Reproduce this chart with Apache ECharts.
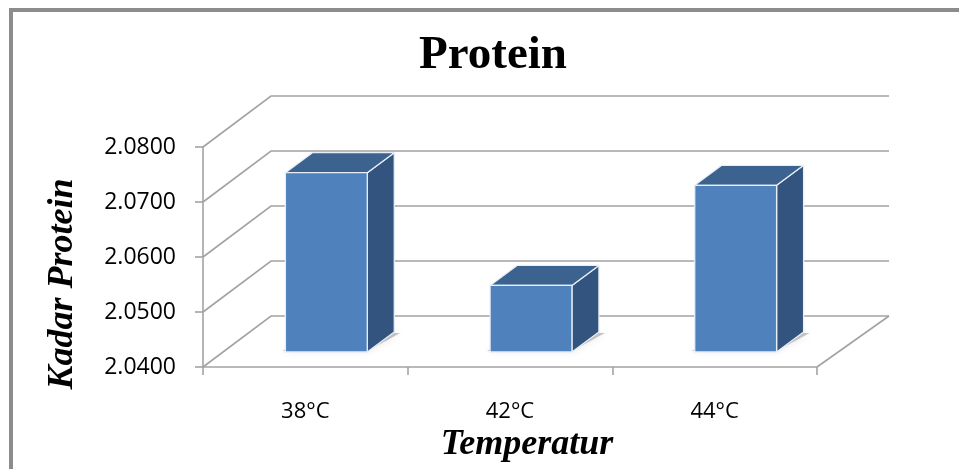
<!DOCTYPE html>
<html>
<head>
<meta charset="utf-8">
<script src="https://cdn.jsdelivr.net/npm/echarts@6/dist/echarts.min.js"></script>
<style>
html,body{margin:0;padding:0;background:#fff;}
#chart{width:959px;height:469px;}
</style>
</head>
<body>
<div id="chart"></div>
<script>
const categories = ['38°C', '42°C', '44°C'];
const proteinValues = [2.0726, 2.0521, 2.0703];
const yTicks = [2.04, 2.05, 2.06, 2.07, 2.08];
const titleText = 'Protein';
const yName = 'Kadar Protein';
const xName = 'Temperatur';

// style constants (pixel offsets of the pseudo-3D depth)
const WALL_DX = 68, WALL_DY = 51, WALL_DX_RIGHT = 72;
const BAR_FX = 21, BAR_FY = 15, BAR_DX = 27, BAR_DY = 20, BAR_W = 0.4;
const GRID_COLOR = '#a3a3a3';

const chart = echarts.init(document.getElementById('chart'), null, {renderer: 'canvas'});

const yMin = yTicks[0], yMax = yTicks[yTicks.length - 1];

function renderWall(params, api) {
  const v = api.value(1);
  const p = api.coord([0, v]);
  const cs = params.coordSys;
  const x0 = cs.x, x1 = cs.x + cs.width, y = p[1];
  const children = [{
    type: 'polyline',
    shape: {points: [[x0, y], [x0 + WALL_DX, y - WALL_DY], [x1 + WALL_DX_RIGHT, y - WALL_DY]]},
    style: {stroke: GRID_COLOR, lineWidth: 1.6, fill: null}
  }];
  if (params.dataIndex === 0) {
    children.push({
      type: 'line',
      shape: {x1: x1, y1: y, x2: x1 + WALL_DX_RIGHT, y2: y - WALL_DY},
      style: {stroke: GRID_COLOR, lineWidth: 1.6}
    });
  }
  return {type: 'group', children: children};
}

function renderBar(params, api) {
  const idx = api.value(0);
  const val = api.value(1);
  const top = api.coord([idx, val]);
  const base = api.coord([idx, yMin]);
  const w = api.size([1, 0])[0] * BAR_W;
  const xl = top[0] - w / 2 + BAR_FX, xr = xl + w;
  const yt = top[1] - BAR_FY, yb = base[1] - BAR_FY;
  const edge = {stroke: '#e8eef7', lineWidth: 1.3, lineJoin: 'round'};
  return {
    type: 'group',
    children: [
      {
        type: 'polygon',
        shape: {points: [[xl - 3, yb - 1], [xr, yb - 1], [xr + BAR_DX + 6, yb - BAR_DY + 1], [xl + BAR_DX, yb - BAR_DY]]},
        style: {fill: 'rgba(0,0,0,0.22)', shadowBlur: 8, shadowColor: 'rgba(0,0,0,0.45)'}
      },
      {
        type: 'polygon',
        shape: {points: [[xr, yt], [xr + BAR_DX, yt - BAR_DY], [xr + BAR_DX, yb - BAR_DY], [xr, yb]]},
        style: Object.assign({fill: '#32547e'}, edge)
      },
      {
        type: 'polygon',
        shape: {points: [[xl, yt], [xr, yt], [xr + BAR_DX, yt - BAR_DY], [xl + BAR_DX, yt - BAR_DY]]},
        style: Object.assign({fill: '#3c6390'}, edge)
      },
      {
        type: 'rect',
        shape: {x: xl, y: yt, width: w, height: yb - yt},
        style: Object.assign({fill: '#4f81bd'}, edge)
      }
    ]
  };
}

const option = {
  backgroundColor: '#ffffff',
  animation: false,
  title: {
    text: titleText,
    left: 488,
    textAlign: 'center',
    top: 27,
    textStyle: {fontFamily: 'Liberation Serif', fontWeight: 'bold', fontSize: 47, color: '#000'}
  },
  graphic: [{
    type: 'rect',
    shape: {x: 11, y: 10, width: 2000, height: 2000},
    style: {fill: null, stroke: '#8c8c8c', lineWidth: 4},
    silent: true,
    z: 100
  }],
  grid: {left: 203, top: 147, width: 614, height: 220, containLabel: false},
  xAxis: {
    type: 'category',
    data: categories,
    name: xName,
    nameLocation: 'middle',
    nameGap: 60,
    nameTextStyle: {fontFamily: 'Liberation Serif', fontWeight: 'bold', fontStyle: 'italic', fontSize: 36, color: '#000', padding: [0, 0, 0, 34]},
    axisLine: {show: true, lineStyle: {color: GRID_COLOR, width: 1.6}},
    axisTick: {show: true, length: 8, alignWithLabel: false, lineStyle: {color: GRID_COLOR, width: 1.6}},
    axisLabel: {margin: 34, fontFamily: 'Open Sans', fontSize: 22, color: '#000'},
    splitLine: {show: false}
  },
  yAxis: {
    type: 'value',
    min: yMin,
    max: yMax,
    interval: 0.01,
    name: yName,
    nameLocation: 'middle',
    nameGap: 122,
    nameTextStyle: {fontFamily: 'Liberation Serif', fontWeight: 'bold', fontStyle: 'italic', fontSize: 36, color: '#000', padding: [0, 54, 0, 0]},
    axisLine: {show: true, lineStyle: {color: GRID_COLOR, width: 1.6}},
    axisTick: {show: true, length: 8, lineStyle: {color: GRID_COLOR, width: 1.6}},
    axisLabel: {margin: 27, fontFamily: 'Open Sans', fontSize: 23, color: '#000', formatter: v => v.toFixed(4)},
    splitLine: {show: false}
  },
  series: [
    {
      type: 'custom',
      name: 'walls',
      renderItem: renderWall,
      data: yTicks.map(v => [0, v]),
      silent: true,
      z: 1
    },
    {
      type: 'custom',
      name: 'Protein',
      renderItem: renderBar,
      data: proteinValues.map((v, i) => [i, v]),
      z: 5
    }
  ]
};
chart.setOption(option);
</script>
</body>
</html>
